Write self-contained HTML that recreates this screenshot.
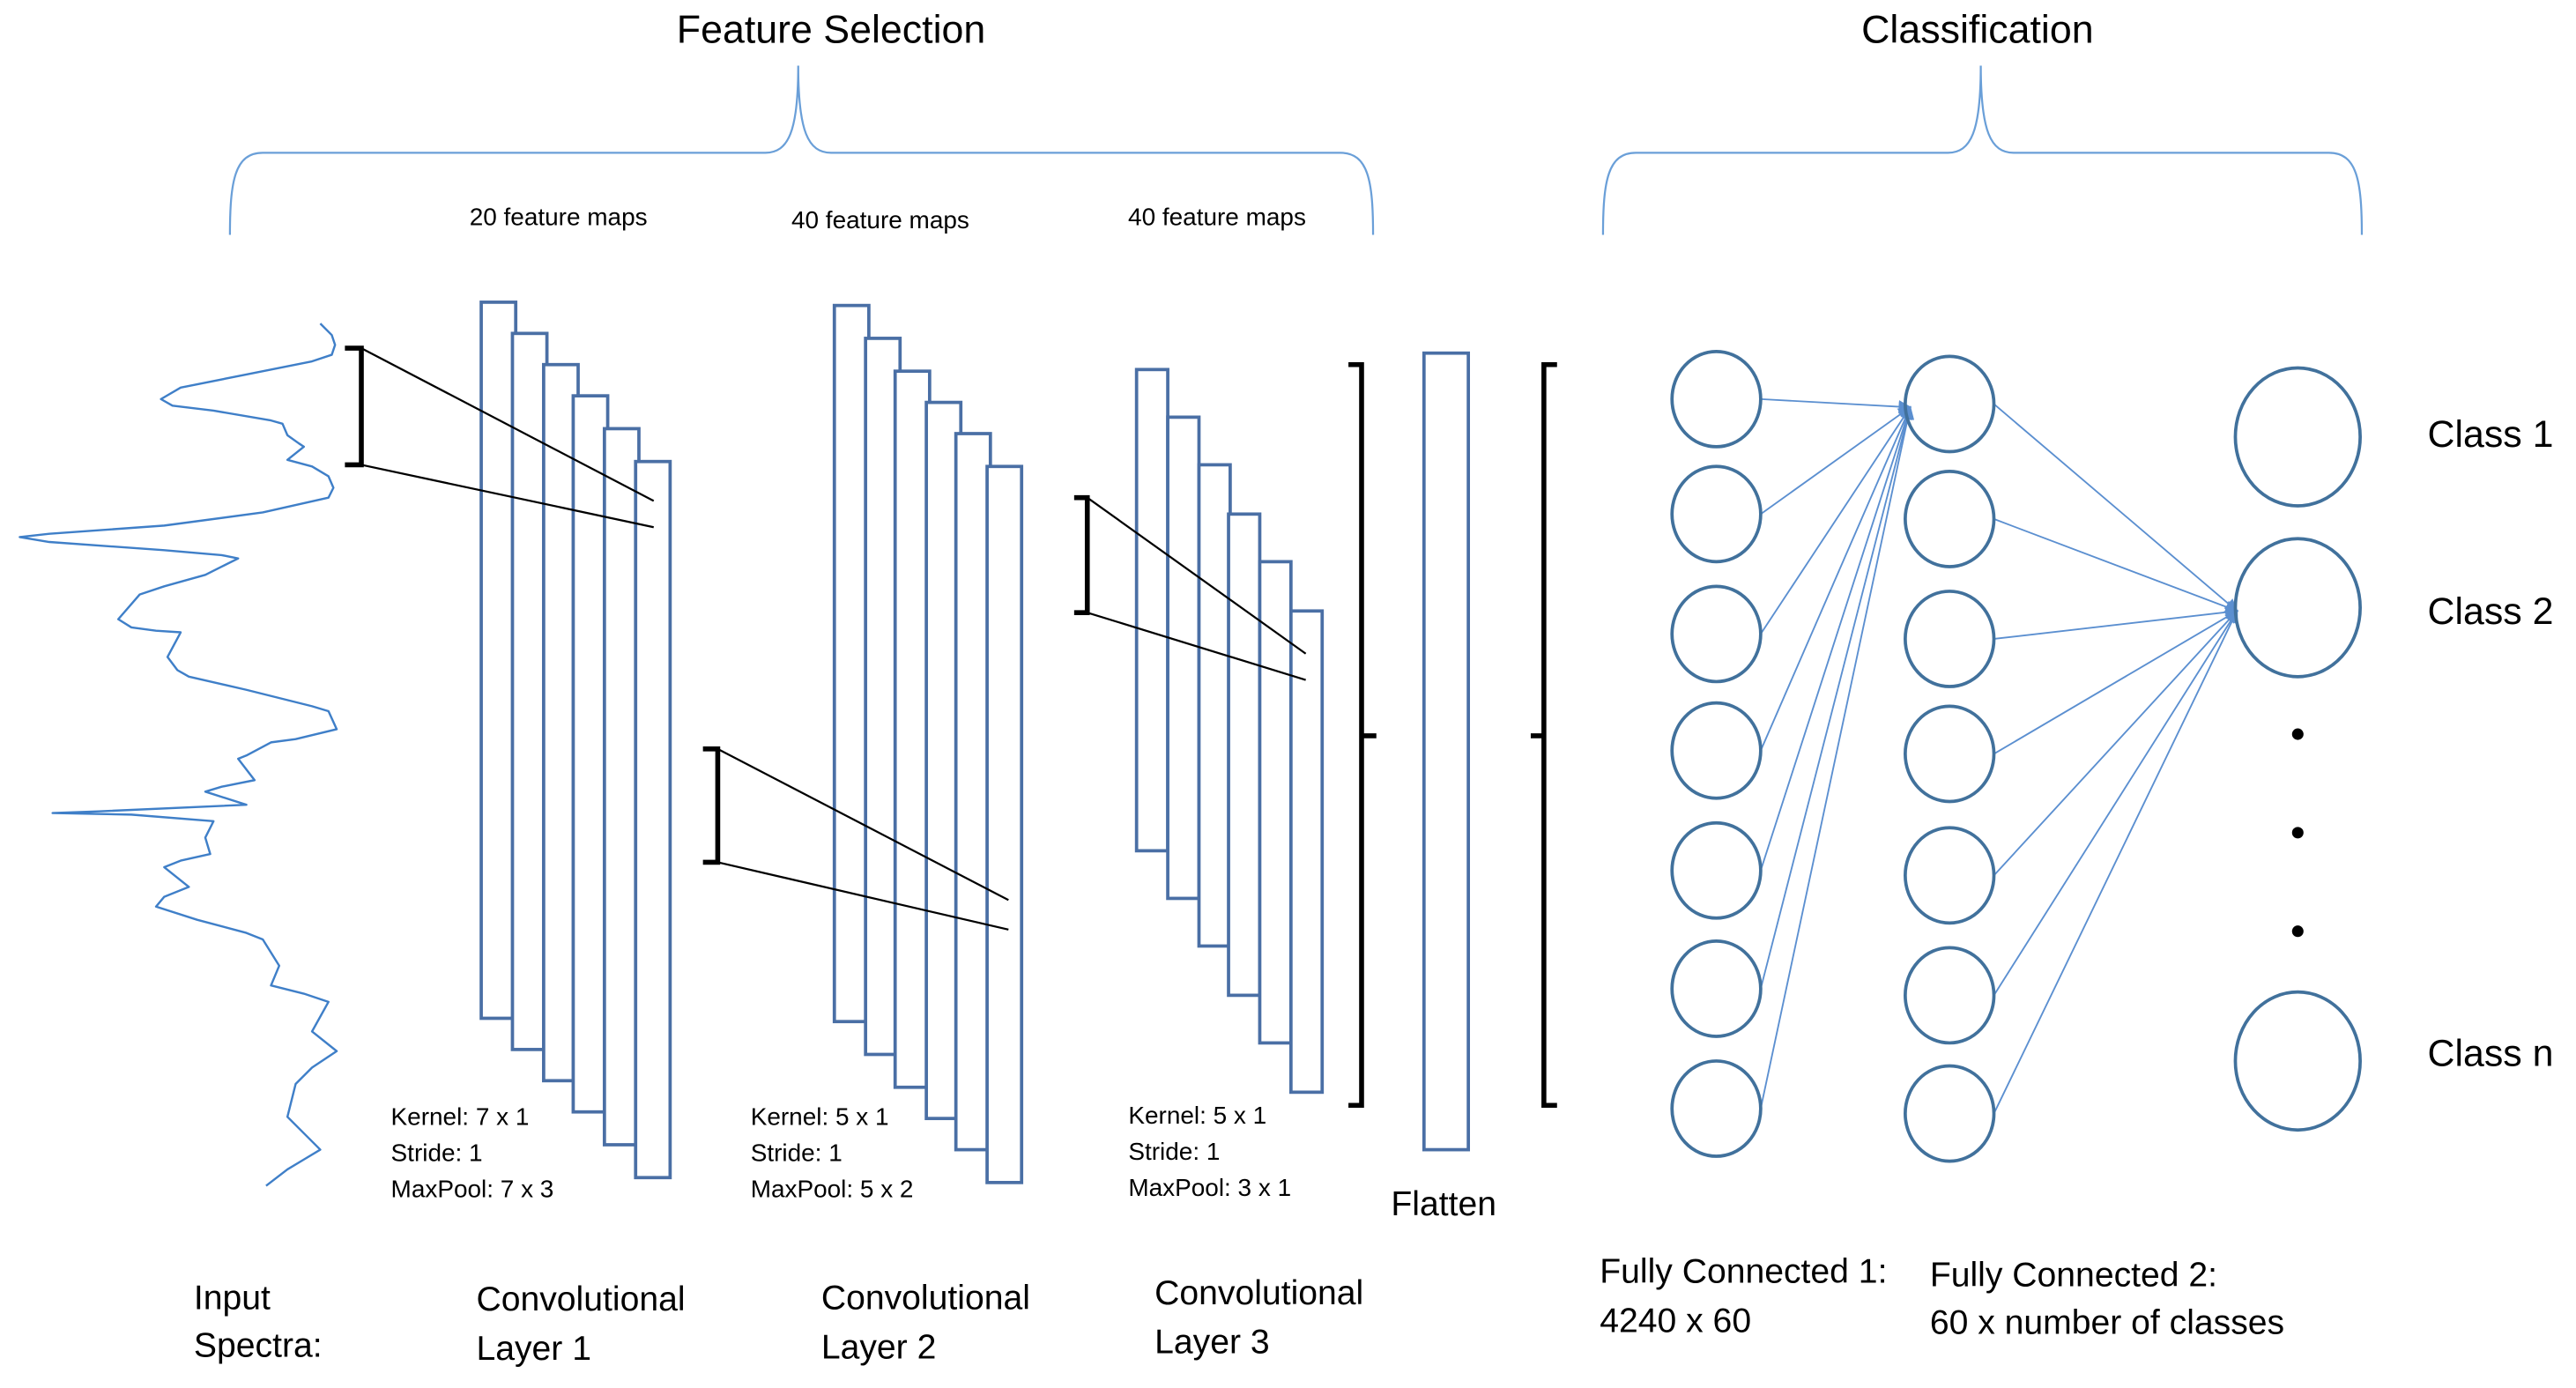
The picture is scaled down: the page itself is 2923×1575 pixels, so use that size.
<!DOCTYPE html>
<html><head><meta charset="utf-8"><style>html,body{margin:0;padding:0;background:#fff}svg{display:block}</style></head>
<body>
<svg width="2923" height="1575" viewBox="0 0 1568.4 845.1" xmlns="http://www.w3.org/2000/svg" font-family="Liberation Sans, sans-serif">
<defs><marker id="ah" markerWidth="8" markerHeight="8" refX="7" refY="4" orient="auto" markerUnits="userSpaceOnUse"><path d="M0,0 L8,4 L0,8 z" fill="#5b8fd0"/></marker></defs>
<g fill="#000">
<text x="506" y="26" font-size="24" text-anchor="middle">Feature Selection</text>
<text x="1204" y="26" font-size="24" text-anchor="middle">Classification</text>
<text x="340" y="137" font-size="15" text-anchor="middle">20 feature maps</text>
<text x="536" y="139" font-size="15" text-anchor="middle">40 feature maps</text>
<text x="741" y="137" font-size="15" text-anchor="middle">40 feature maps</text>
</g>
<g fill="none" stroke="#6a9fd8" stroke-width="1.2">
<path d="M140,143 C140,110 143,93 160,93 L466,93 C480,93 486,80 486,40 C486,80 492,93 506,93 L816,93 C833,93 836,110 836,143"/>
<path d="M976,143 C976,110 979,93 996,93 L1186,93 C1200,93 1206,80 1206,40 C1206,80 1212,93 1226,93 L1418,93 C1435,93 1438,110 1438,143"/>
</g>
<polyline fill="none" stroke="#3f7fc8" stroke-width="1.3" stroke-linejoin="round" points="195,197 202,204 204,210 202,216 190,220 150,228 110,236 98,243 105,247 130,250 165,256 172,258 175,265 182,270 185,272 175,280 190,284 200,290 203,297 200,303 160,312 100,320 30,325 12,327 30,330 100,335 135,338 145,340 135,345 125,350 100,357 85,362 72,377 80,382 95,384 110,385 102,400 108,408 115,412 150,420 190,430 200,433 205,444 180,450 165,452 150,460 145,462 155,475 135,479 125,482 150,490 60,494 32,495 80,496 130,500 125,510 128,520 110,524 100,528 115,540 100,546 95,552 120,560 150,568 160,572 170,588 165,600 185,605 200,610 190,628 205,640 190,650 180,660 175,680 185,690 195,700 185,706 175,712 162,722"/>
<g fill="#fff" stroke="#4a6fa5" stroke-width="2">
<rect x="293" y="184" width="21" height="436"/><rect x="312" y="203" width="21" height="436"/><rect x="331" y="222" width="21" height="436"/><rect x="349" y="241" width="21" height="436"/><rect x="368" y="261" width="21" height="436"/><rect x="387" y="281" width="21" height="436"/>
<rect x="508" y="186" width="21" height="436"/><rect x="527" y="206" width="21" height="436"/><rect x="545" y="226" width="21" height="436"/><rect x="564" y="245" width="21" height="436"/><rect x="582" y="264" width="21" height="436"/><rect x="601" y="284" width="21" height="436"/>
<rect x="692" y="225" width="19" height="293"/><rect x="711" y="254" width="19" height="293"/><rect x="730" y="283" width="19" height="293"/><rect x="748" y="313" width="19" height="293"/><rect x="767" y="342" width="19" height="293"/><rect x="786" y="372" width="19" height="293"/>
<rect x="867" y="215" width="27" height="485"/>
</g>
<g fill="none" stroke="#000" stroke-width="1.2">
<line x1="220" y1="212" x2="398" y2="305"/><line x1="220" y1="283" x2="398" y2="321"/>
<line x1="437" y1="456" x2="614" y2="548"/><line x1="437" y1="525" x2="614" y2="566"/>
<line x1="662" y1="303" x2="795" y2="398"/><line x1="662" y1="373" x2="795" y2="414"/>
</g>
<g fill="none" stroke="#000" stroke-width="3">
<path d="M210,212 H220 V283 H210"/><path d="M428,456 H437 V525 H428"/><path d="M654,303 H662 V373 H654"/>
<path d="M821,222 H829 V673 H821 M829,448 H838"/>
<path d="M948,222 H940 V673 H948 M940,448 H932"/>
</g>
<g stroke="#5b8fd0" stroke-width="1" marker-end="url(#ah)">
<line x1="1072" y1="243" x2="1163" y2="248"/><line x1="1072" y1="313" x2="1163" y2="248"/><line x1="1072" y1="386" x2="1163" y2="248"/><line x1="1072" y1="457" x2="1163" y2="248"/><line x1="1072" y1="530" x2="1163" y2="248"/><line x1="1072" y1="602" x2="1163" y2="248"/><line x1="1072" y1="675" x2="1163" y2="248"/>
<line x1="1214" y1="246" x2="1362" y2="372"/><line x1="1214" y1="316" x2="1362" y2="372"/><line x1="1214" y1="389" x2="1362" y2="372"/><line x1="1214" y1="459" x2="1362" y2="372"/><line x1="1214" y1="533" x2="1362" y2="372"/><line x1="1214" y1="606" x2="1362" y2="372"/><line x1="1214" y1="678" x2="1362" y2="372"/>
</g>
<g fill="none" stroke="#41719c" stroke-width="2">
<ellipse cx="1045" cy="243" rx="27" ry="29"/><ellipse cx="1045" cy="313" rx="27" ry="29"/><ellipse cx="1045" cy="386" rx="27" ry="29"/><ellipse cx="1045" cy="457" rx="27" ry="29"/><ellipse cx="1045" cy="530" rx="27" ry="29"/><ellipse cx="1045" cy="602" rx="27" ry="29"/><ellipse cx="1045" cy="675" rx="27" ry="29"/>
<ellipse cx="1187" cy="246" rx="27" ry="29"/><ellipse cx="1187" cy="316" rx="27" ry="29"/><ellipse cx="1187" cy="389" rx="27" ry="29"/><ellipse cx="1187" cy="459" rx="27" ry="29"/><ellipse cx="1187" cy="533" rx="27" ry="29"/><ellipse cx="1187" cy="606" rx="27" ry="29"/><ellipse cx="1187" cy="678" rx="27" ry="29"/>
<ellipse cx="1399" cy="266" rx="38" ry="42"/><ellipse cx="1399" cy="370" rx="38" ry="42"/><ellipse cx="1399" cy="646" rx="38" ry="42"/>
</g>
<g fill="#000"><circle cx="1399" cy="447" r="3.5"/><circle cx="1399" cy="507" r="3.5"/><circle cx="1399" cy="567" r="3.5"/></g>
<g fill="#000" font-size="23">
<text x="1478" y="272">Class 1</text><text x="1478" y="380">Class 2</text><text x="1478" y="649">Class n</text>
</g>
<g fill="#000" font-size="15">
<text x="238" y="685">Kernel: 7 x 1</text><text x="238" y="707">Stride: 1</text><text x="238" y="729">MaxPool: 7 x 3</text>
<text x="457" y="685">Kernel: 5 x 1</text><text x="457" y="707">Stride: 1</text><text x="457" y="729">MaxPool: 5 x 2</text>
<text x="687" y="684">Kernel: 5 x 1</text><text x="687" y="706">Stride: 1</text><text x="687" y="728">MaxPool: 3 x 1</text>
</g>
<g fill="#000" font-size="21">
<text x="879" y="740" text-anchor="middle">Flatten</text>
<text x="118" y="797">Input</text><text x="118" y="826">Spectra:</text>
<text x="290" y="798">Convolutional</text><text x="290" y="828">Layer 1</text>
<text x="500" y="797">Convolutional</text><text x="500" y="827">Layer 2</text>
<text x="703" y="794">Convolutional</text><text x="703" y="824">Layer 3</text>
<text x="974" y="781">Fully Connected 1:</text><text x="974" y="811">4240 x 60</text>
<text x="1175" y="783">Fully Connected 2:</text><text x="1175" y="812">60 x number of classes</text>
</g>
</svg>
</body></html>
